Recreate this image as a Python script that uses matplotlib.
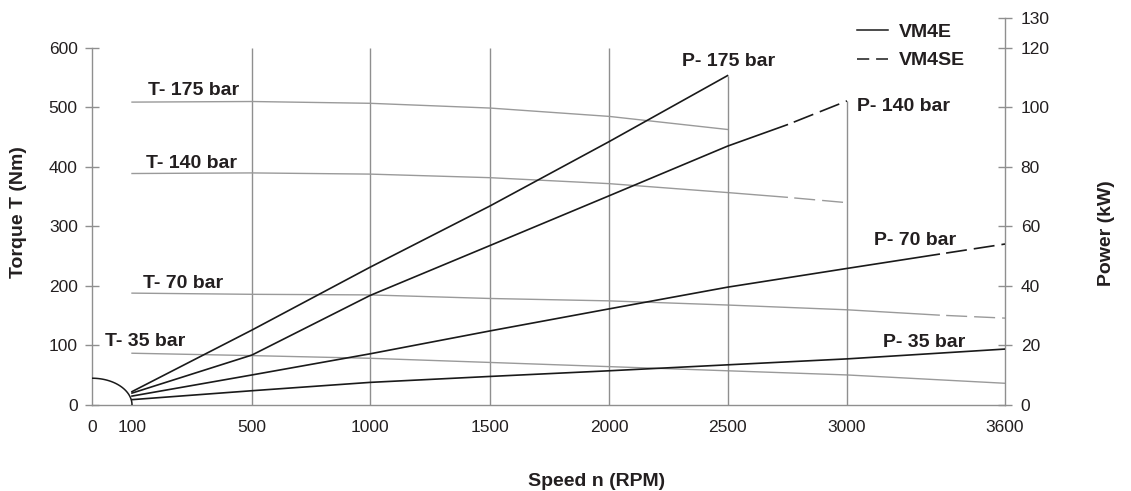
import numpy as np
import matplotlib.pyplot as plt
from matplotlib.lines import Line2D

plt.rcParams['font.family'] = ['Liberation Sans', 'DejaVu Sans']

# speed axis: ticks and their spacing on the (schematic, non-linear) axis
speed_ticks = [0, 100, 500, 1000, 1500, 2000, 2500, 3000, 3600]
tick_spacing = [0, 40, 160, 278, 398, 517, 635.5, 755, 913]

torque_ticks = [0, 100, 200, 300, 400, 500, 600]
power_ticks = [0, 20, 40, 60, 80, 100, 120, 130]

# torque curves (Nm)
t175_n = [100, 500, 1000, 1500, 2000, 2500]
t175 = [509, 510, 507, 499, 485, 463]
t140_n = [100, 500, 1000, 1500, 2000, 2500, 2750, 3000]
t140 = [389, 390, 388, 382, 372, 357, 349, 340]
t70_n = [100, 500, 1000, 1500, 2000, 2500, 3000, 3350, 3600]
t70 = [188, 186, 185, 179, 175, 168, 160, 151, 146]
t35_n = [100, 500, 1000, 1500, 2000, 2500, 3000, 3600]
t35 = [87, 83, 78.5, 71.5, 64.5, 57.5, 50.5, 36.5]

# power curves (kW)
p175_n = [100, 500, 1000, 1500, 2000, 2500]
p175 = [4.5, 25.2, 46.3, 66.9, 88.5, 110.7]
p140_n = [100, 500, 1000, 1500, 2000, 2500, 2750, 3000]
p140 = [4.0, 16.8, 36.8, 53.6, 70.3, 87.0, 94.2, 102.2]
p70_n = [100, 500, 1000, 1500, 2000, 2500, 3000, 3350, 3600]
p70 = [3.0, 10.1, 17.2, 24.9, 32.3, 39.6, 45.9, 50.7, 54.1]
p35_n = [100, 500, 1000, 1500, 2000, 2500, 3000, 3600]
p35 = [1.8, 4.8, 7.6, 9.6, 11.5, 13.5, 15.5, 18.8]

# VM4E runs up to these speeds, VM4SE beyond (dashed)
vm4e_max_140 = 2750
vm4e_max_70 = 3350

# idle region arc at the origin
arc_torque = 45

GRID = '#8f8f8f'
TQ = '#9a9a9a'
PW = '#1a1a1a'
TXT = '#231f20'


def fwd(x):
    return np.interp(x, speed_ticks, tick_spacing)


def inv(x):
    return np.interp(x, tick_spacing, speed_ticks)


def curve(axis, n, v, nmax, color, lw):
    n = np.array(n)
    v = np.array(v)
    solid = n <= nmax
    axis.plot(n[solid], v[solid], color=color, lw=lw, zorder=3)
    dash = n >= nmax
    if dash.sum() > 1:
        on, off = 21 / 1.389 / lw, 7 / 1.389 / lw
        axis.plot(n[dash], v[dash], color=color, lw=lw, zorder=3,
                  linestyle=(on, (on, off)))


fig = plt.figure(figsize=(11.31, 4.91), dpi=100)
ax = fig.add_axes([92 / 1131, 86 / 491, 913 / 1131, 386.8 / 491])
ax.set_xscale('function', functions=(fwd, inv))
ax.set_xlim(0, 3600)
ax.set_ylim(0, 650)
ax2 = ax.twinx()
ax2.set_ylim(0, 130)

for a in (ax, ax2):
    for s in a.spines.values():
        s.set_visible(False)
ax.spines['left'].set_visible(True)
ax.spines['bottom'].set_visible(True)
ax2.spines['right'].set_visible(True)
ax.spines['left'].set_bounds(0, 600)
ax2.spines['right'].set_bounds(0, 130)
for s in (ax.spines['left'], ax.spines['bottom'], ax2.spines['right']):
    s.set_color(GRID)
    s.set_linewidth(1)

ax.set_xticks(speed_ticks)
ax.set_xticklabels([str(t) for t in speed_ticks])
ax.set_yticks(torque_ticks)
ax2.set_yticks(power_ticks)
ax.tick_params(axis='x', length=0, pad=11, labelsize=12.5, labelcolor=TXT)
ax.tick_params(axis='y', direction='inout', length=10.5, width=1, color=GRID,
               pad=5, labelsize=12.5, labelcolor=TXT)
ax2.tick_params(axis='y', direction='inout', length=10.5, width=1, color=GRID,
                pad=6, labelsize=12.5, labelcolor=TXT)

# grid
ax.vlines([t for t in speed_ticks if 500 <= t <= 2000], 0, 600,
          color=GRID, lw=1, zorder=1)
ax2.vlines(p175_n[-1], 0, p175[-1], color=GRID, lw=1, zorder=1)
ax2.vlines(p140_n[-1], 0, p140[-1], color=GRID, lw=1, zorder=1)

# arc
th = np.linspace(0, np.pi / 2, 60)
ax.plot(100 * np.sin(th), arc_torque * np.cos(th), color=PW, lw=1.1, zorder=3)

# torque
curve(ax, t175_n, t175, 9999, TQ, 1.0)
curve(ax, t140_n, t140, vm4e_max_140, TQ, 1.0)
curve(ax, t70_n, t70, vm4e_max_70, TQ, 1.0)
curve(ax, t35_n, t35, 9999, TQ, 1.0)

# power
curve(ax2, p175_n, p175, 9999, PW, 1.2)
curve(ax2, p140_n, p140, vm4e_max_140, PW, 1.2)
curve(ax2, p70_n, p70, vm4e_max_70, PW, 1.2)
curve(ax2, p35_n, p35, 9999, PW, 1.2)

lab = dict(fontsize=14, fontweight='bold', color=TXT, ha='left', va='center')
ax.text(153, 529, 'T- 175 bar', **lab)
ax.text(147, 405, 'T- 140 bar', **lab)
ax.text(137, 205, 'T- 70 bar', **lab)
ax.text(32, 106, 'T- 35 bar', **lab)
ax2.text(2308, 115.4, 'P- 175 bar', **lab)
ax2.text(3038, 100.2, 'P- 140 bar', **lab)
ax2.text(3103, 55.4, 'P- 70 bar', **lab)
ax2.text(3137, 21.0, 'P- 35 bar', **lab)

ax.text(-0.08, 0.50, 'Torque T (Nm)', transform=ax.transAxes, rotation=90,
        ha='center', va='center', fontsize=14, fontweight='bold', color=TXT)
ax.text(1.1117, 0.445, 'Power (kW)', transform=ax.transAxes, rotation=90,
        ha='center', va='center', fontsize=14, fontweight='bold', color=TXT)
ax.text(0.553, -0.199, 'Speed n (RPM)', transform=ax.transAxes,
        ha='center', va='center', fontsize=14, fontweight='bold', color=TXT)

handles = [Line2D([], [], color=PW, lw=1.1),
           Line2D([], [], color=PW, lw=1.1, dashes=(8, 4.5))]
leg = fig.legend(handles, ['VM4E', 'VM4SE'], loc='upper left',
                 bbox_to_anchor=(839 / 1131, 1 - 6 / 491), frameon=False,
                 handlelength=1.6, handletextpad=0.6, labelspacing=0.55,
                 prop={'size': 14, 'weight': 'bold'})
for t in leg.get_texts():
    t.set_color(TXT)

fig.savefig('out.png', dpi=100)
